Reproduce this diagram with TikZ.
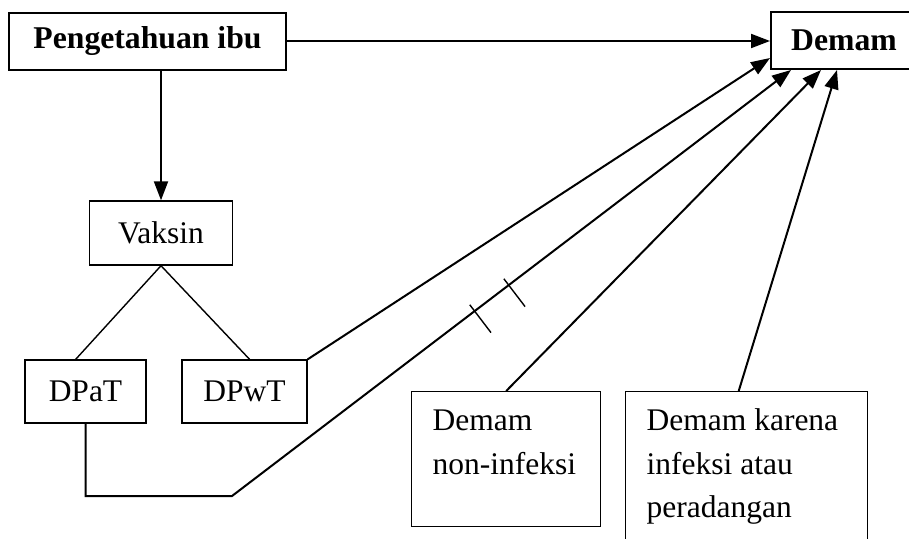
\documentclass[tikz,border=0pt]{standalone}
\usepackage{fontspec}
\setmainfont{Liberation Serif}
\usepackage{tikz}
\usetikzlibrary{arrows.meta,positioning,calc}

\tikzset{
  kotakbold/.style={draw, rectangle, line width=2pt, inner sep=0pt,
    font=\fontsize{31.7}{38}\selectfont\bfseries},
  kotak/.style={draw, rectangle, line width=1.4pt, inner sep=0pt,
    font=\fontsize{31.5}{43.5}\selectfont},
  panah/.style={-{Triangle[length=19pt,width=14pt]}, line width=2pt},
  garis/.style={line width=1.4pt},
}

\begin{document}
\begin{tikzpicture}[x=1pt,y=-1pt]
   \useasboundingbox (0,0) rectangle (909,538);
   % kotak atas
   \node [kotakbold,minimum width=277pt,minimum height=57pt] (ibu) at (147.5,41) {Pengetahuan ibu};
   \node [kotakbold,minimum width=146pt,minimum height=57pt] (demam) at (844,40.5) {Demam};
   % vaksin dan turunannya
   \node [kotak,minimum width=143pt,minimum height=64pt] (vaksin) at (161,233) {Vaksin};
   \node [kotak,minimum width=121pt,minimum height=63pt] (dpat) at (85.5,391.5) {DPaT};
   \node [kotak,minimum width=125pt,minimum height=63pt] (dpwt) at (244.5,391.5) {DPwT};
   % kotak bawah
   \node [kotak,anchor=north west] (noninf) at (411,391)
      {\parbox[c][135pt][t]{189pt}{\leftskip=21pt\rule{0pt}{39pt}Demam\\non-infeksi}};
   \node [kotak,anchor=north west] (infeksi) at (625,391)
      {\parbox[c][175pt][t]{242pt}{\leftskip=21pt\rule{0pt}{39pt}Demam karena\\infeksi atau\\peradangan}};

   \coordinate (belok) at (232,496);
   \coordinate (ujung) at ($(demam.south west)+(21,0)$);

   \draw [panah] (ibu) -- (demam.west |- ibu);
   \draw [panah] (ibu.south -| vaksin) -- (vaksin);
   \draw [garis] (vaksin.south) -- ($(dpat.north west)!0.42!(dpat.north east)$);
   \draw [garis] (vaksin.south) -- ($(dpwt.north west)!0.54!(dpwt.north east)$);
   \draw [panah] (dpwt.north east) -- ($(demam.south west)+(0,-12)$);
   \draw [panah] (dpat.south) -- (dpat.south |- belok) -- (belok) -- (ujung);
   \draw [panah] (noninf.north) -- ($(demam.south west)+(51,0)$);
   \draw [panah] ($(infeksi.north)+(-8,0)$) -- ($(demam.south west)+(67,0)$);

   % tanda garis ganda
   \coordinate (m1) at ($(belok)!0.434!(ujung)$);
   \coordinate (m2) at ($(belok)!0.495!(ujung)$);
   \draw [garis] ($(m1)!8pt!90:(ujung)$) -- ($(m1)!27pt!-90:(ujung)$);
   \draw [garis] ($(m2)!8pt!90:(ujung)$) -- ($(m2)!27pt!-90:(ujung)$);
\end{tikzpicture}
\end{document}
